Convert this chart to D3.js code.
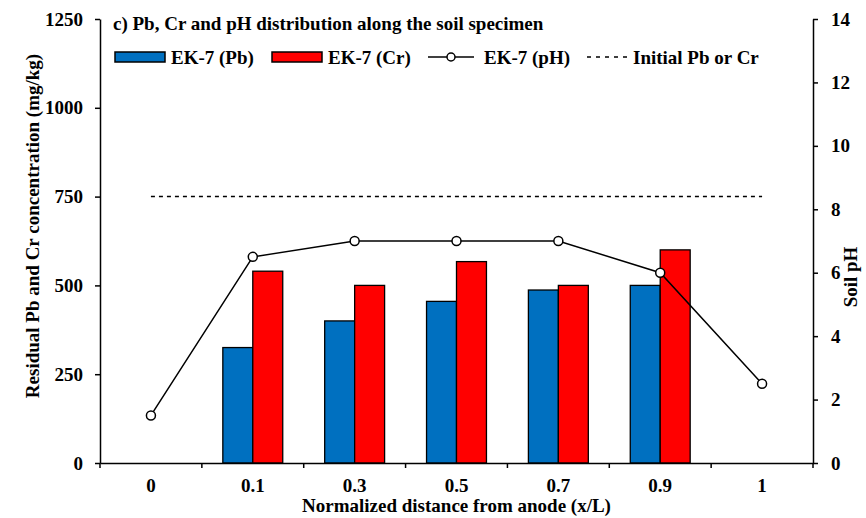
<!DOCTYPE html>
<html>
<head>
<meta charset="utf-8">
<script src="https://cdn.jsdelivr.net/npm/d3@7"></script>
<style>
  body { margin: 0; background: #fff; }
  svg text { font-family: "Liberation Serif", "Times New Roman", serif; font-weight: bold; fill: #000; }
</style>
</head>
<body>
<div id="chart"></div>
<script>
const categories = ["0", "0.1", "0.3", "0.5", "0.7", "0.9", "1"];
const pbValues = [null, 325, 400, 455, 487, 500, null];
const crValues = [null, 540, 500, 567, 500, 600, null];
const phValues = [1.5, 6.5, 7, 7, 7, 6, 2.5];
const initialConc = 750;
const leftTicks = [0, 250, 500, 750, 1000, 1250];
const rightTicks = [0, 2, 4, 6, 8, 10, 12, 14];

const W = 866, H = 518;
const margin = { top: 19, right: 53, bottom: 55, left: 100 };
const width = W - margin.left - margin.right,
  height = H - margin.top - margin.bottom;
const fontSize = "19px";

const svg = d3.select("#chart").append("svg")
  .attr("width", W).attr("height", H);
const g = svg.append("g")
  .attr("transform", `translate(${margin.left},${margin.top})`);

const x = d3.scaleBand().domain(categories).range([0, width]);
const xSub = d3.scaleBand().domain(["Pb", "Cr"])
  .range([0, x.bandwidth()]).paddingOuter(0.7);
const yL = d3.scaleLinear().domain([0, 1250]).range([height, 0]);
const yR = d3.scaleLinear().domain([0, 14]).range([height, 0]);

const colors = { Pb: "#0070C0", Cr: "#FF0000" };

// bars
const rows = categories.map((c, i) => ({ cat: c, Pb: pbValues[i], Cr: crValues[i] }));
["Pb", "Cr"].forEach((k) => {
  g.append("g").selectAll("rect")
    .data(rows.filter((d) => d[k] != null))
    .join("rect")
    .attr("x", (d) => x(d.cat) + xSub(k))
    .attr("y", (d) => yL(d[k]))
    .attr("width", xSub.bandwidth())
    .attr("height", (d) => height - yL(d[k]))
    .attr("fill", colors[k])
    .attr("stroke", "#000")
    .attr("stroke-width", 1.3);
});

// initial concentration line
const cx = (c) => x(c) + x.bandwidth() / 2;
g.append("line")
  .attr("x1", cx(categories[0]))
  .attr("x2", cx(categories[categories.length - 1]))
  .attr("y1", yL(initialConc)).attr("y2", yL(initialConc))
  .attr("stroke", "#000").attr("stroke-width", 1.5)
  .attr("stroke-dasharray", "4,4");

// pH line
const phData = categories.map((c, i) => ({ cat: c, v: phValues[i] }));
g.append("path")
  .datum(phData)
  .attr("fill", "none")
  .attr("stroke", "#000")
  .attr("stroke-width", 1.5)
  .attr("d", d3.line().x((d) => cx(d.cat)).y((d) => yR(d.v)));
g.append("g").selectAll("circle")
  .data(phData)
  .join("circle")
  .attr("cx", (d) => cx(d.cat))
  .attr("cy", (d) => yR(d.v))
  .attr("r", 4.5)
  .attr("fill", "#fff")
  .attr("stroke", "#000")
  .attr("stroke-width", 1.5);

// axes
const axL = g.append("g")
  .call(d3.axisLeft(yL).tickValues(leftTicks).tickFormat(d3.format("d"))
    .tickSize(5).tickSizeOuter(0).tickPadding(12));
const axR = g.append("g")
  .attr("transform", `translate(${width},0)`)
  .call(d3.axisRight(yR).tickValues(rightTicks).tickSize(5).tickSizeOuter(0).tickPadding(13));
const axB = g.append("g")
  .attr("transform", `translate(0,${height})`)
  .call(d3.axisBottom(x).tickSize(0).tickPadding(16));
// x ticks sit at the band edges
const edges = categories.map((c) => x(c)).concat([width]);
axB.selectAll("line.edge")
  .data(edges)
  .join("line")
  .attr("class", "edge")
  .attr("x1", (d) => d).attr("x2", (d) => d)
  .attr("y1", 0).attr("y2", 5)
  .attr("stroke", "#000").attr("stroke-width", 1.5);

[axL, axR, axB].forEach((a) => {
  a.selectAll(".domain").attr("stroke", "#000").attr("stroke-width", 1.5);
  a.selectAll(".tick line").attr("stroke", "#000").attr("stroke-width", 1.5);
  a.selectAll(".tick text")
    .style("font-family", '"Liberation Serif", serif')
    .style("font-weight", "bold")
    .style("font-size", fontSize);
});

// axis titles
svg.append("text")
  .attr("transform", `translate(32,226) rotate(-90)`)
  .attr("text-anchor", "middle")
  .attr("dy", "0.35em")
  .style("font-size", fontSize)
  .text("Residual Pb and Cr concentration (mg/kg)");
svg.append("text")
  .attr("transform", `translate(850,277) rotate(-90)`)
  .attr("text-anchor", "middle")
  .attr("dy", "0.35em")
  .style("font-size", fontSize)
  .text("Soil pH");
svg.append("text")
  .attr("x", margin.left + width / 2)
  .attr("y", 512)
  .attr("text-anchor", "middle")
  .style("font-size", fontSize)
  .text("Normalized distance from anode (x/L)");

// title
svg.append("text")
  .attr("x", 113).attr("y", 30)
  .style("font-size", fontSize)
  .text("c) Pb, Cr and pH distribution along the soil specimen");

// legend
const legend = svg.append("g").attr("transform", "translate(0,57)");
const legendItems = [
  { label: "EK-7 (Pb)", type: "rect", color: colors.Pb, x: 115 },
  { label: "EK-7 (Cr)", type: "rect", color: colors.Cr, x: 272 },
  { label: "EK-7 (pH)", type: "marker", x: 428 },
  { label: "Initial Pb or Cr", type: "dash", x: 587 }
];
legendItems.forEach((it) => {
  const lg = legend.append("g").attr("transform", `translate(${it.x},0)`);
  let tx;
  if (it.type === "rect") {
    lg.append("rect").attr("x", 0).attr("y", -5).attr("width", 50).attr("height", 10)
      .attr("fill", it.color).attr("stroke", "#000").attr("stroke-width", 1.5);
    tx = 56;
  } else if (it.type === "marker") {
    lg.append("line").attr("x1", 0).attr("x2", 46).attr("y1", 0).attr("y2", 0)
      .attr("stroke", "#000").attr("stroke-width", 1.5);
    lg.append("circle").attr("cx", 23).attr("cy", 0).attr("r", 4)
      .attr("fill", "#fff").attr("stroke", "#000").attr("stroke-width", 1.5);
    tx = 56;
  } else {
    lg.append("line").attr("x1", 0).attr("x2", 42).attr("y1", 0).attr("y2", 0)
      .attr("stroke", "#000").attr("stroke-width", 1.5).attr("stroke-dasharray", "4,5");
    tx = 46;
  }
  lg.append("text").attr("x", tx).attr("dy", "0.35em")
    .style("font-size", fontSize).text(it.label);
});
</script>
</body>
</html>
